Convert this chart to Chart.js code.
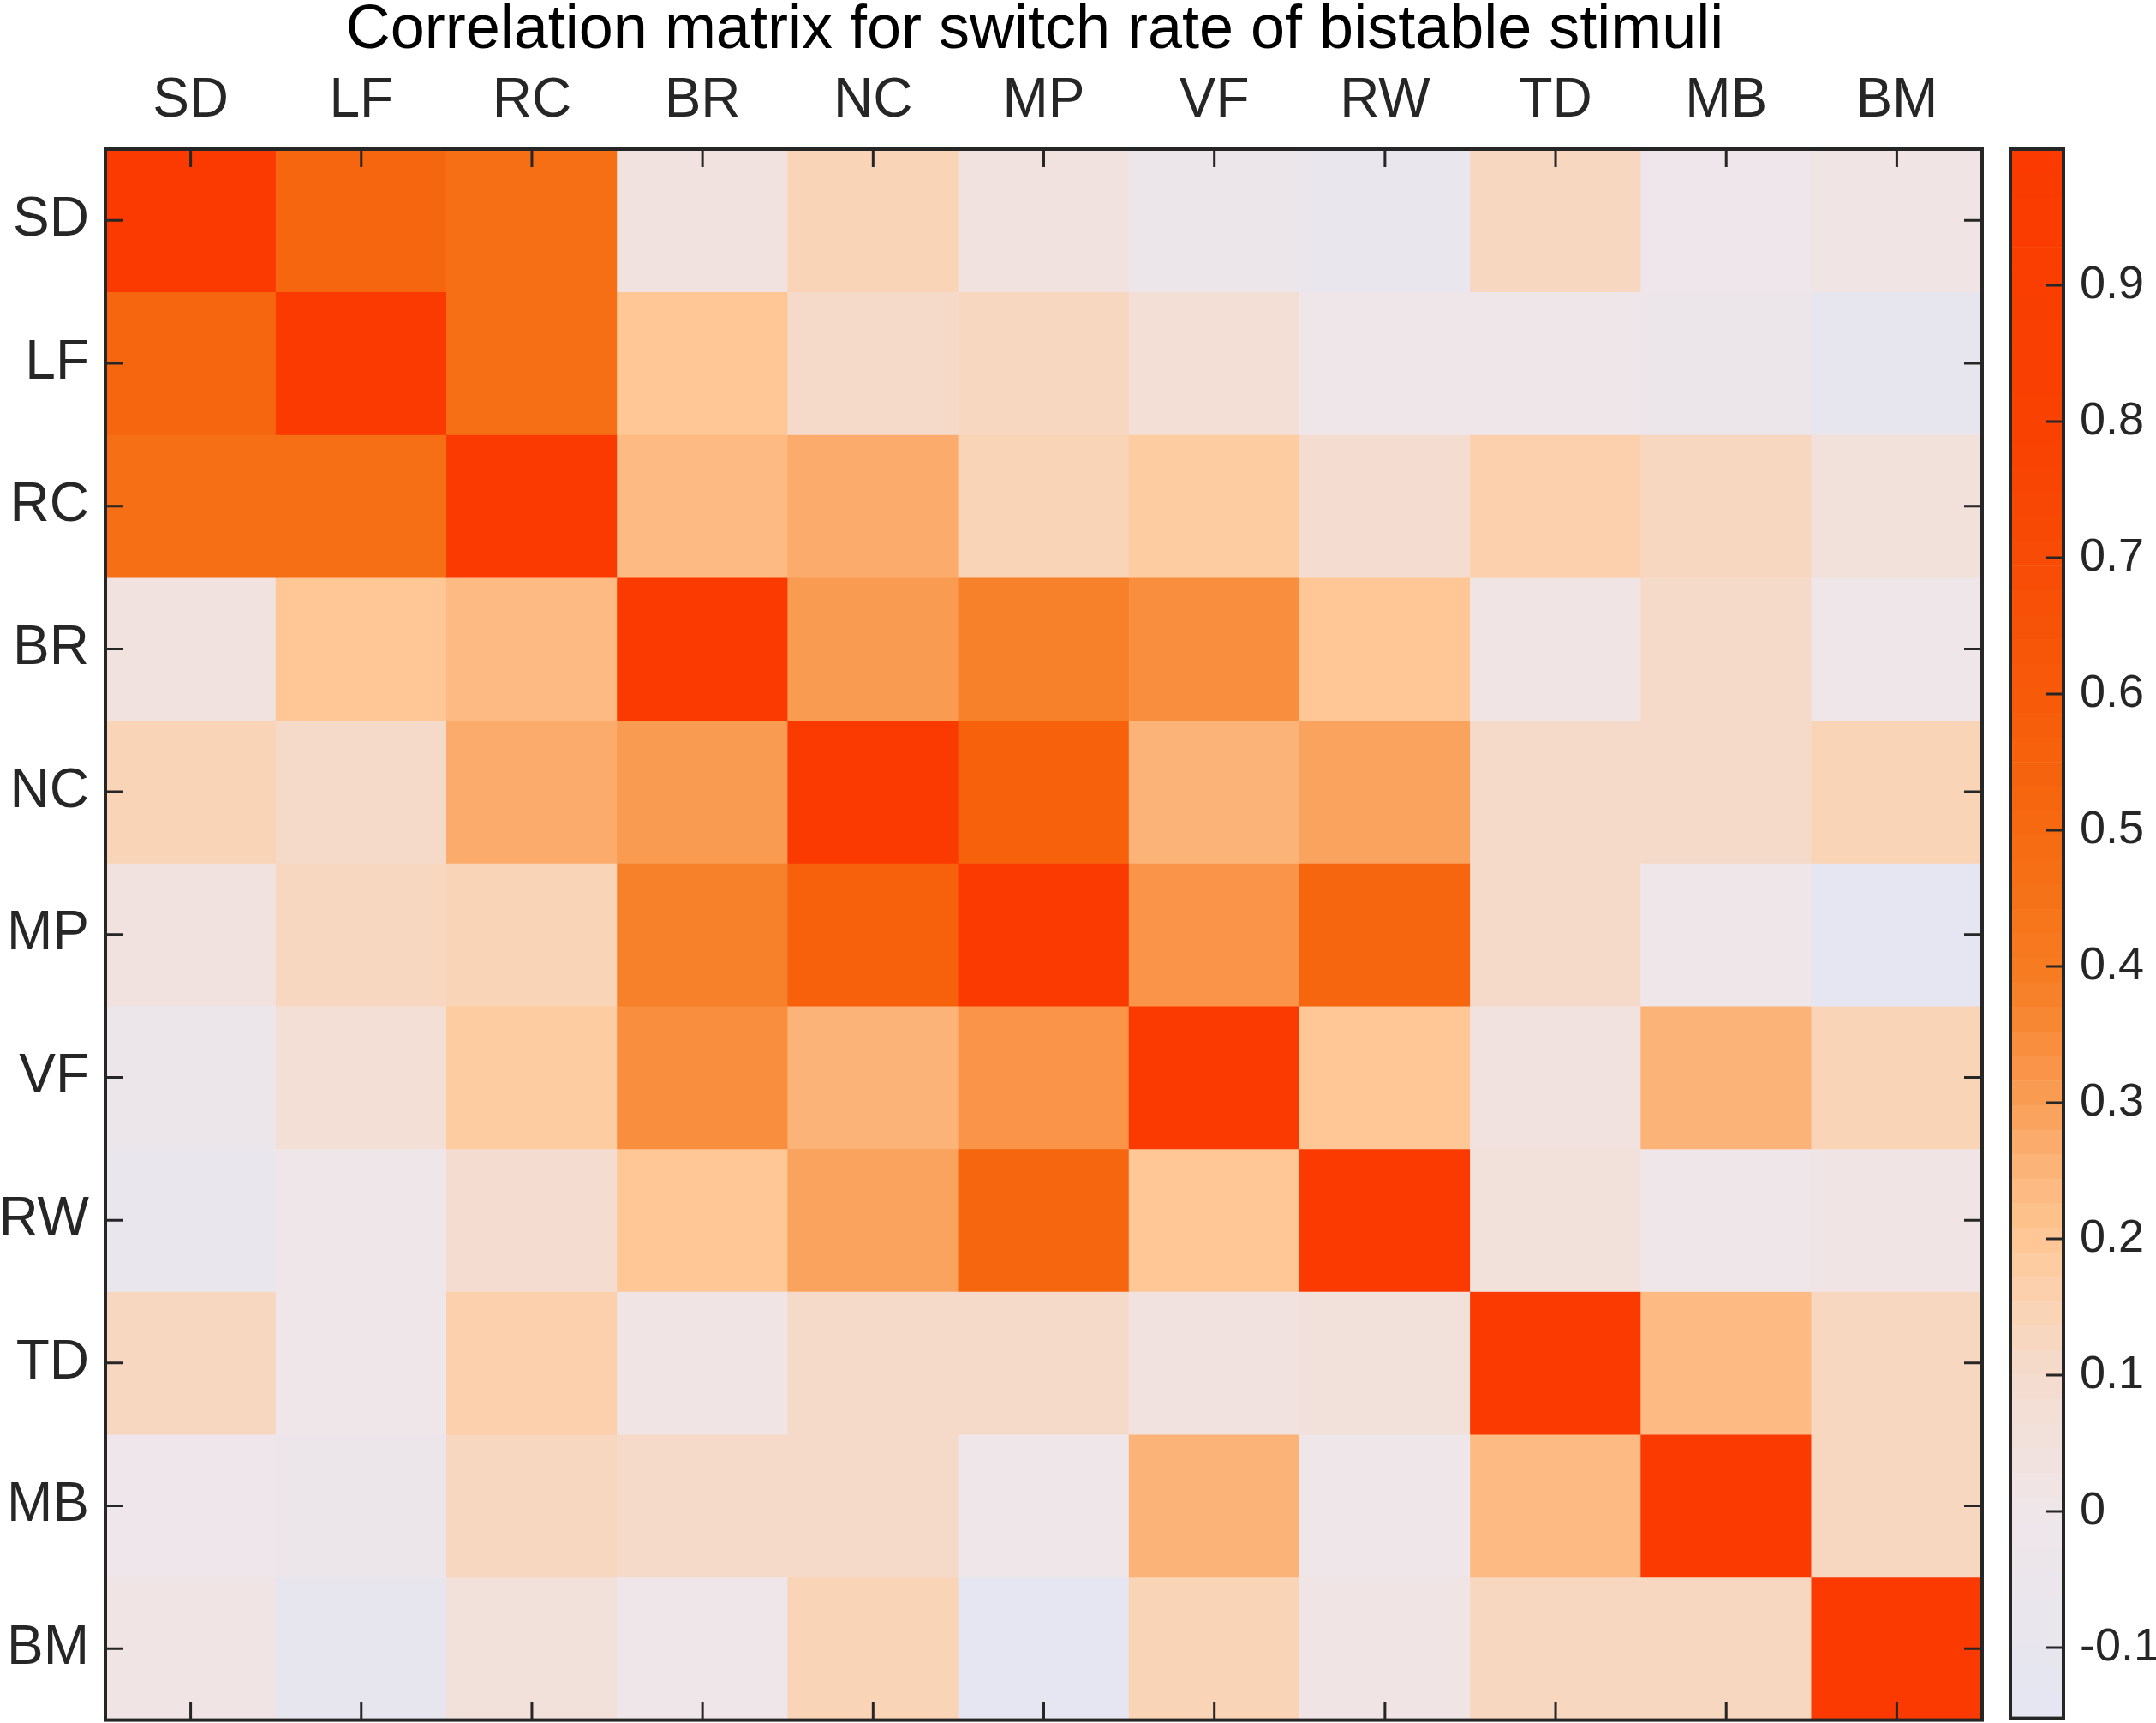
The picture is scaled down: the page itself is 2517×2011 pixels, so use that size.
<!DOCTYPE html>
<html>
<head>
<meta charset="utf-8">
<script src="https://cdn.jsdelivr.net/npm/chart.js@4/dist/chart.umd.min.js"></script>
<style>
  html, body { margin: 0; padding: 0; background: #fff; }
  body { width: 2517px; height: 2011px; position: relative; overflow: hidden; }
  #heat { position: absolute; left: 0; top: 0; }
  #cbar { position: absolute; left: 2300px; top: 0; }
</style>
</head>
<body>
<!-- canvases run a little past the page bottom: the y axes reserve half a label of padding there -->
<canvas id="heat" width="2416" height="2065"></canvas>
<canvas id="cbar" width="217" height="2057"></canvas>
<script>
// stimulus names (rows top->bottom, columns left->right)
const names = ['SD', 'LF', 'RC', 'BR', 'NC', 'MP', 'VF', 'RW', 'TD', 'MB', 'BM'];

// correlation matrix, one row per stimulus
const rowSD = [1.00, 0.52, 0.46, 0.04, 0.15, 0.03, -0.04, -0.07, 0.13, -0.02, 0.02];
const rowLF = [0.52, 1.00, 0.46, 0.205, 0.10, 0.12, 0.07, 0.00, 0.00, -0.03, -0.10];
const rowRC = [0.46, 0.46, 1.00, 0.23, 0.27, 0.145, 0.18, 0.09, 0.155, 0.13, 0.05];
const rowBR = [0.04, 0.205, 0.23, 1.00, 0.31, 0.375, 0.35, 0.205, 0.01, 0.11, 0.00];
const rowNC = [0.15, 0.10, 0.27, 0.31, 1.00, 0.55, 0.25, 0.285, 0.10, 0.11, 0.14];
const rowMP = [0.03, 0.12, 0.145, 0.375, 0.55, 1.00, 0.33, 0.53, 0.10, 0.00, -0.152];
const rowVF = [-0.04, 0.07, 0.18, 0.35, 0.25, 0.33, 1.00, 0.205, 0.045, 0.25, 0.15];
const rowRW = [-0.07, 0.00, 0.09, 0.205, 0.285, 0.53, 0.205, 1.00, 0.06, 0.00, 0.01];
const rowTD = [0.13, 0.00, 0.155, 0.01, 0.10, 0.10, 0.045, 0.06, 1.00, 0.235, 0.13];
const rowMB = [-0.02, -0.03, 0.13, 0.11, 0.11, 0.00, 0.25, 0.00, 0.235, 1.00, 0.135];
const rowBM = [0.02, -0.10, 0.05, 0.00, 0.14, -0.152, 0.15, 0.01, 0.13, 0.135, 1.00];
const matrix = [rowSD, rowLF, rowRC, rowBR, rowNC, rowMP, rowVF, rowRW, rowTD, rowMB, rowBM];

// colorbar tick values
const cbTicks = [-0.1, 0, 0.1, 0.2, 0.3, 0.4, 0.5, 0.6, 0.7, 0.8, 0.9];

// colormap anchors: fraction of the colour range -> colour
const cmapPos = [0.0, 0.132, 0.219, 0.262, 0.306, 0.349, 0.392, 0.436, 0.479, 0.566, 0.653, 0.740, 0.826, 1.0];
const cmapCol = ['#e4e6f2', '#efe6e9', '#f5dccd', '#fbd3b4', '#fec794', '#fcb47a', '#fa9e56',
                 '#f88b3a', '#f77a20', '#f66a10', '#f75a0a', '#f84b05', '#f94102', '#fa3a00'];
const nLevels = 64;

const all = matrix.flat();
const cMin = Math.min(...all);
const cMax = Math.max(...all);

function hexRgb(h) {
  return [parseInt(h.slice(1, 3), 16), parseInt(h.slice(3, 5), 16), parseInt(h.slice(5, 7), 16)];
}
function levelColor(k) {
  const f = (k + 0.5) / nLevels;
  let j = 0;
  while (j < cmapPos.length - 2 && f > cmapPos[j + 1]) j++;
  const t = (f - cmapPos[j]) / (cmapPos[j + 1] - cmapPos[j]);
  const a = hexRgb(cmapCol[j]), b = hexRgb(cmapCol[j + 1]);
  const c = a.map((v, i) => Math.round(v + (b[i] - v) * t));
  return `rgb(${c[0]},${c[1]},${c[2]})`;
}
const levels = [];
for (let k = 0; k < nLevels; k++) levels.push(levelColor(k));

function colorFor(v) {
  let k = Math.floor((v - cMin) / (cMax - cMin) * nLevels);
  k = Math.max(0, Math.min(nLevels - 1, k));
  return levels[k];
}

const FONT = "'Liberation Sans', Arial, Helvetica, sans-serif";
const AXIS = '#262626';

const framePlugin = {
  id: 'frame',
  afterDraw(chart) {
    const { ctx, chartArea: a, scales } = chart;
    const tl = 21;
    ctx.save();
    ctx.strokeStyle = AXIS;
    ctx.lineWidth = 3;
    ctx.beginPath();
    names.forEach((n, i) => {
      const px = scales.x.getPixelForValue(i);
      ctx.moveTo(px, a.top); ctx.lineTo(px, a.top + tl);
      ctx.moveTo(px, a.bottom); ctx.lineTo(px, a.bottom - tl);
      const py = scales.y.getPixelForValue(i + 0.5);
      ctx.moveTo(a.left, py); ctx.lineTo(a.left + tl, py);
      ctx.moveTo(a.right, py); ctx.lineTo(a.right - tl, py);
    });
    ctx.stroke();
    ctx.lineWidth = 4;
    ctx.strokeRect(a.left, a.top, a.right - a.left, a.bottom - a.top);
    ctx.restore();
  }
};

new Chart(document.getElementById('heat'), {
  type: 'bar',
  data: {
    labels: names,
    datasets: matrix.map((row, i) => ({
      label: names[i],
      data: row.map(() => 1),
      backgroundColor: row.map(colorFor),
      borderWidth: 0,
      barPercentage: 1,
      categoryPercentage: 1
    }))
  },
  options: {
    responsive: false,
    devicePixelRatio: 1,
    animation: false,
    layout: { padding: { left: 0, right: 0, top: 0, bottom: 0 } },
    plugins: {
      legend: { display: false },
      tooltip: { enabled: false },
      title: {
        display: true,
        text: 'Correlation matrix for switch rate of bistable stimuli',
        color: '#000',
        font: { family: FONT, size: 72, weight: 'normal', lineHeight: 1 },
        padding: 0
      }
    },
    scales: {
      x: {
        position: 'top',
        stacked: true,
        grid: { display: false, drawTicks: false },
        border: { display: false },
        ticks: { color: AXIS, font: { family: FONT, size: 64 }, padding: 17, maxRotation: 0 },
        afterFit: s => { s.height = 102; }
      },
      y: {
        type: 'linear',
        stacked: true,
        min: 0,
        max: names.length,
        reverse: true,
        grid: { display: false, drawTicks: false },
        border: { display: false },
        afterBuildTicks: s => { s.ticks = names.map((n, i) => ({ value: i + 0.5 })); },
        ticks: {
          color: AXIS,
          font: { family: FONT, size: 64 },
          padding: 19,
          callback: (v, i) => names[i]
        },
        afterFit: s => { s.width = 123; }
      },
      // empty right-hand axis: keeps the title centred over the matrix
      yRight: {
        type: 'linear',
        position: 'right',
        min: 0,
        max: 1,
        grid: { display: false, drawTicks: false },
        border: { display: false },
        ticks: { display: false },
        afterFit: s => { s.width = 102; }
      }
    }
  },
  plugins: [framePlugin]
});

// colorbar
const step = (cMax - cMin) / nLevels;
const cbarPlugin = {
  id: 'cbarFrame',
  afterDraw(chart) {
    const { ctx, chartArea: a, scales } = chart;
    ctx.save();
    ctx.strokeStyle = AXIS;
    ctx.lineWidth = 3;
    ctx.beginPath();
    cbTicks.forEach(t => {
      const py = scales.y.getPixelForValue(t);
      ctx.moveTo(a.right, py); ctx.lineTo(a.right - 20, py);
    });
    ctx.stroke();
    ctx.lineWidth = 4;
    ctx.strokeRect(a.left, a.top, a.right - a.left, a.bottom - a.top);
    ctx.restore();
  }
};

new Chart(document.getElementById('cbar'), {
  type: 'bar',
  data: {
    labels: [''],
    datasets: levels.map((c, k) => ({
      data: [[cMin + k * step, cMin + (k + 1) * step]],
      backgroundColor: c,
      borderWidth: 0,
      grouped: false,
      barPercentage: 1,
      categoryPercentage: 1
    }))
  },
  options: {
    responsive: false,
    devicePixelRatio: 1,
    animation: false,
    layout: { padding: { left: 47, right: 0, top: 174, bottom: 0 } },
    plugins: { legend: { display: false }, tooltip: { enabled: false } },
    scales: {
      x: { display: false },
      y: {
        position: 'right',
        min: cMin,
        max: cMax,
        grid: { display: false, drawTicks: false },
        border: { display: false },
        afterBuildTicks: s => { s.ticks = cbTicks.map(v => ({ value: v })); },
        ticks: {
          color: AXIS,
          font: { family: FONT, size: 54 },
          padding: 19,
          callback: v => (Math.abs(v) < 1e-9 ? '0' : v.toFixed(1))
        },
        afterFit: s => { s.width = 108; }
      }
    }
  },
  plugins: [cbarPlugin]
});
</script>
</body>
</html>
